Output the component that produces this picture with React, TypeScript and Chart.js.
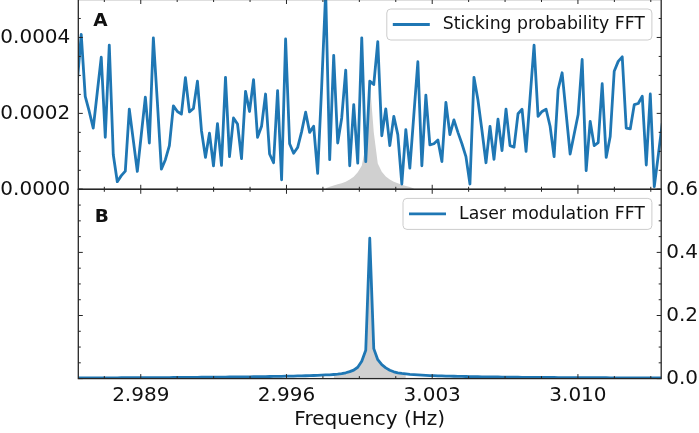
import React, { useEffect, useRef } from 'react';
import { Chart, ChartConfiguration, registerables } from 'chart.js';

Chart.register(...registerables);

// FFT bins (Hz) - uniform spacing of the transform
const freqStart = 2.985948;
const freqStep = 0.0001925;

// panel A: sticking probability FFT, one value per bin
const stickingFFT = [
  0.000280, 0.000408, 0.000245, 0.000205, 0.000161, 0.000255, 0.000348, 0.000137, 0.000380, 0.000091,
  0.000020, 0.000036, 0.000048, 0.000211, 0.000129, 0.000047, 0.000145, 0.000243, 0.000122, 0.000399,
  0.000230, 0.000053, 0.000078, 0.000115, 0.000220, 0.000205, 0.000198, 0.000294, 0.000204, 0.000213,
  0.000285, 0.000155, 0.000084, 0.000148, 0.000062, 0.000173, 0.000063, 0.000295, 0.000086, 0.000188,
  0.000172, 0.000081, 0.000258, 0.000205, 0.000289, 0.000137, 0.000166, 0.000251, 0.000093, 0.000070,
  0.000260, 0.000025, 0.000396, 0.000120, 0.000095, 0.000110, 0.000152, 0.000203, 0.000150, 0.000166,
  0.000042, 0.000270, 0.000520, 0.000078, 0.000353, 0.000122, 0.000188, 0.000314, 0.000062, 0.000223,
  0.000069, 0.000399, 0.000073, 0.000285, 0.000276, 0.000389, 0.000141, 0.000212, 0.000115, 0.000192,
  0.000144, 0.000014, 0.000157, 0.000056, 0.000196, 0.000336, 0.000062, 0.000248, 0.000117, 0.000120,
  0.000130, 0.000073, 0.000229, 0.000144, 0.000183, 0.000150, 0.000120, 0.000086, 0.000014, 0.000295,
  0.000235, 0.000155, 0.000070, 0.000166, 0.000079, 0.000185, 0.000102, 0.000211, 0.000115, 0.000111,
  0.000199, 0.000211, 0.000100, 0.000240, 0.000380, 0.000192, 0.000205, 0.000211, 0.000166, 0.000086,
  0.000263, 0.000307, 0.000200, 0.000093, 0.000145, 0.000197, 0.000342, 0.000049, 0.000179, 0.000115,
  0.000123, 0.000278, 0.000084, 0.000139, 0.000311, 0.000337, 0.000349, 0.000161, 0.000159, 0.000223,
  0.000226, 0.000245, 0.000064, 0.000251, 0.000007, 0.000090, 0.000175,
];

// panel B: laser modulation FFT, same bins
const laserFFT = [
  0.0022, 0.0022, 0.0023, 0.0023, 0.0024, 0.0024, 0.0024, 0.0025, 0.0025, 0.0026,
  0.0026, 0.0027, 0.0027, 0.0028, 0.0028, 0.0029, 0.0029, 0.0030, 0.0031, 0.0031,
  0.0032, 0.0033, 0.0033, 0.0034, 0.0035, 0.0036, 0.0037, 0.0038, 0.0039, 0.0040,
  0.0041, 0.0042, 0.0043, 0.0043, 0.0045, 0.0046, 0.0047, 0.0048, 0.0050, 0.0051,
  0.0052, 0.0054, 0.0055, 0.0056, 0.0058, 0.0060, 0.0062, 0.0064, 0.0066, 0.0068,
  0.0071, 0.0073, 0.0076, 0.0078, 0.0081, 0.0084, 0.0087, 0.0091, 0.0095, 0.0099,
  0.0104, 0.0109, 0.0115, 0.0121, 0.0130, 0.0141, 0.0158, 0.0185, 0.0220, 0.0270,
  0.0360, 0.0550, 0.0900, 0.4450, 0.0950, 0.0600, 0.0440, 0.0340, 0.0265, 0.0215,
  0.0185, 0.0165, 0.0150, 0.0135, 0.0124, 0.0115, 0.0108, 0.0102, 0.0097, 0.0092,
  0.0088, 0.0084, 0.0080, 0.0077, 0.0074, 0.0071, 0.0068, 0.0066, 0.0063, 0.0061,
  0.0059, 0.0057, 0.0055, 0.0053, 0.0052, 0.0050, 0.0049, 0.0047, 0.0046, 0.0045,
  0.0044, 0.0042, 0.0041, 0.0040, 0.0039, 0.0038, 0.0037, 0.0036, 0.0035, 0.0035,
  0.0034, 0.0033, 0.0032, 0.0032, 0.0031, 0.0030, 0.0030, 0.0029, 0.0029, 0.0028,
  0.0028, 0.0027, 0.0027, 0.0026, 0.0026, 0.0025, 0.0025, 0.0024, 0.0024, 0.0024,
  0.0023, 0.0023, 0.0023, 0.0022, 0.0022, 0.0022, 0.0021,
];

// grey reference peak in panel A, starting at bin 62
const refPeakStart = 62;
const refPeakA = [
  0.000003, 0.000007, 0.000010, 0.000013, 0.000016, 0.000020, 0.000026, 0.000033,
  0.000045, 0.000062, 0.000115, 0.000285, 0.000150, 0.000068, 0.000046, 0.000034,
  0.000026, 0.000020, 0.000016, 0.000012, 0.000009, 0.000006, 0.000002,
];

// grey fill under the laser peak in panel B (bins 64..82)
const fillStartB = 64;
const fillEndB = 82;

const xTicks = [2.989, 2.996, 3.003, 3.01];
const yTicksA = [0, 0.0002, 0.0004];
const yTicksB = [0, 0.2, 0.4, 0.6];

const freqs = stickingFFT.map((_, k) => freqStart + k * freqStep);

const FONT = '"DejaVu Sans", sans-serif';
const INK = '#111111';
const SPINE = '#262626';
const BLUE = '#1f77b4';
const GREY = '#d0d0d0';
const LINE_W = 2.8;
const X_MIN = 2.986;
const X_MAX = 3.014;
const X_MINOR = 0.00175;

interface PanelStyle {
  letter: string;
  letterDx: number;
  letterDy: number;
  legend: string;
  legendDy: number;
  yMinor: number;
}

const minorPositions = (anchor: number, step: number, min: number, max: number) => {
  const out: number[] = [];
  let v = anchor;
  while (v - step >= min - 1e-12) v -= step;
  for (; v <= max + 1e-12; v += step) out.push(v);
  return out;
};

const near = (list: number[], v: number) => list.some((t) => Math.abs(t - v) < 1e-9);

// frame, inward ticks, panel letter and matplotlib-like legend
const panelDecor = (p: PanelStyle, yMajor: number[]) => ({
  id: 'panelDecor',
  afterDraw(chart: Chart) {
    const { ctx, chartArea: a } = chart;
    const xs = chart.scales.x;
    const ys = chart.scales.y;
    ctx.save();

    ctx.strokeStyle = SPINE;
    ctx.lineWidth = 1;
    ctx.beginPath();
    minorPositions(xTicks[0], X_MINOR, X_MIN, X_MAX).forEach((v) => {
      const px = xs.getPixelForValue(v);
      const len = near(xTicks, v) ? 4.5 : 2.5;
      ctx.moveTo(px, a.top);
      ctx.lineTo(px, a.top + len);
      ctx.moveTo(px, a.bottom);
      ctx.lineTo(px, a.bottom - len);
    });
    minorPositions(0, p.yMinor, ys.min, ys.max).forEach((v) => {
      const py = ys.getPixelForValue(v);
      const len = near(yMajor, v) ? 4.5 : 2.5;
      ctx.moveTo(a.left, py);
      ctx.lineTo(a.left + len, py);
      ctx.moveTo(a.right, py);
      ctx.lineTo(a.right - len, py);
    });
    ctx.stroke();

    ctx.lineWidth = 1.3;
    ctx.strokeRect(a.left, a.top, a.right - a.left, a.bottom - a.top);

    ctx.fillStyle = INK;
    ctx.font = `bold 18.5px ${FONT}`;
    ctx.textAlign = 'left';
    ctx.textBaseline = 'alphabetic';
    ctx.fillText(p.letter, a.left + p.letterDx, a.top + p.letterDy);

    ctx.font = `17.3px ${FONT}`;
    const tw = ctx.measureText(p.legend).width;
    const w = 56 + tw + 7;
    const h = 31;
    const bx = a.right - 9.3 - w;
    const by = a.top + p.legendDy;
    ctx.beginPath();
    ctx.roundRect(bx, by, w, h, 4);
    ctx.fillStyle = 'rgba(255,255,255,0.8)';
    ctx.fill();
    ctx.strokeStyle = '#cccccc';
    ctx.lineWidth = 1;
    ctx.stroke();
    ctx.beginPath();
    ctx.moveTo(bx + 6, by + h / 2);
    ctx.lineTo(bx + 43, by + h / 2);
    ctx.strokeStyle = BLUE;
    ctx.lineWidth = LINE_W;
    ctx.stroke();
    ctx.fillStyle = INK;
    ctx.textBaseline = 'middle';
    ctx.fillText(p.legend, bx + 56, by + h / 2 + 0.5);

    ctx.restore();
  },
});

const tickFont = { family: FONT, size: 20 };

// fixed axis size, and no extra room reserved for the end labels
const fixWidth = (width: number) => (s: any) => {
  s.width = width;
  s.paddingTop = 0;
  s.paddingBottom = 0;
};

const lineSet = (values: number[]) => ({
  data: values.map((v, k) => ({ x: freqs[k], y: v })),
  borderColor: BLUE,
  borderWidth: LINE_W,
  borderJoinStyle: 'round' as const,
  pointRadius: 0,
  fill: false,
  clip: 0,
});

const greySet = (values: number[], start: number) => ({
  data: values.map((v, j) => ({ x: freqs[start + j], y: v })),
  borderColor: 'rgba(0,0,0,0)',
  borderWidth: 0,
  backgroundColor: GREY,
  pointRadius: 0,
  fill: 'origin',
  clip: 0,
});

const configA = (): ChartConfiguration => ({
  type: 'line',
  data: {
    datasets: [lineSet(stickingFFT), greySet(refPeakA, refPeakStart)] as any,
  },
  options: {
    animation: false,
    responsive: false,
    events: [],
    layout: { padding: { left: 0, right: 37.8, top: 1.5, bottom: 15.7 } },
    plugins: { legend: { display: false }, tooltip: { enabled: false } },
    scales: {
      x: { type: 'linear', display: false, min: X_MIN, max: X_MAX },
      y: {
        type: 'linear',
        position: 'left',
        min: 0,
        max: 0.0005,
        afterBuildTicks: (s: any) => {
          s.ticks = yTicksA.map((value) => ({ value }));
        },
        afterFit: fixWidth(78.3),
        grid: { display: false, drawTicks: false },
        border: { display: false },
        ticks: {
          padding: 8,
          font: tickFont,
          color: INK,
          callback: (v: any) => Number(v).toFixed(4),
        },
      },
    },
  },
  plugins: [
    panelDecor(
      { letter: 'A', letterDx: 15, letterDy: 26.5, legend: 'Sticking probability FFT', legendDy: 9.5, yMinor: 0.00005 },
      yTicksA,
    ),
  ],
});

const configB = (): ChartConfiguration => ({
  type: 'line',
  data: {
    datasets: [
      lineSet(laserFFT),
      greySet(laserFFT.slice(fillStartB, fillEndB + 1), fillStartB),
    ] as any,
  },
  options: {
    animation: false,
    responsive: false,
    events: [],
    layout: { padding: { left: 78.3, right: 0, top: 14.3, bottom: 0 } },
    plugins: { legend: { display: false }, tooltip: { enabled: false } },
    scales: {
      x: {
        type: 'linear',
        position: 'bottom',
        min: X_MIN,
        max: X_MAX,
        afterBuildTicks: (s: any) => {
          s.ticks = xTicks.map((value) => ({ value }));
        },
        afterFit: (s: any) => {
          s.height = 54.4;
          s.paddingLeft = 0;
          s.paddingRight = 0;
        },
        grid: { display: false, drawTicks: false },
        border: { display: false },
        ticks: {
          padding: 5,
          maxRotation: 0,
          autoSkip: false,
          font: tickFont,
          color: INK,
          callback: (v: any) => Number(v).toFixed(3),
        },
        title: {
          display: true,
          text: 'Frequency (Hz)',
          font: tickFont,
          color: INK,
          padding: { top: 0, bottom: 1 },
        },
      },
      y: {
        type: 'linear',
        position: 'right',
        min: 0,
        max: 0.6,
        afterBuildTicks: (s: any) => {
          s.ticks = yTicksB.map((value) => ({ value }));
        },
        afterFit: fixWidth(37.8),
        grid: { display: false, drawTicks: false },
        border: { display: false },
        ticks: {
          padding: 5,
          font: tickFont,
          color: INK,
          callback: (v: any) => Number(v).toFixed(1),
        },
      },
    },
  },
  plugins: [
    panelDecor(
      { letter: 'B', letterDx: 16.5, letterDy: 32.2, legend: 'Laser modulation FFT', legendDy: 9.1, yMinor: 0.05 },
      yTicksB,
    ),
  ],
});

export default function App() {
  const canvasA = useRef<HTMLCanvasElement | null>(null);
  const canvasB = useRef<HTMLCanvasElement | null>(null);

  useEffect(() => {
    document.body.style.margin = '0';
    if (!canvasA.current || !canvasB.current) return;
    const top = new Chart(canvasA.current, configA());
    const bottom = new Chart(canvasB.current, configB());
    return () => {
      top.destroy();
      bottom.destroy();
    };
  }, []);

  return (
    <div style={{ position: 'relative', width: 699, height: 433, overflow: 'hidden', background: '#ffffff' }}>
      <canvas ref={canvasA} width={699} height={207} style={{ position: 'absolute', left: 0, top: -2 }} />
      <canvas ref={canvasB} width={699} height={258} style={{ position: 'absolute', left: 0, top: 175 }} />
    </div>
  );
}
